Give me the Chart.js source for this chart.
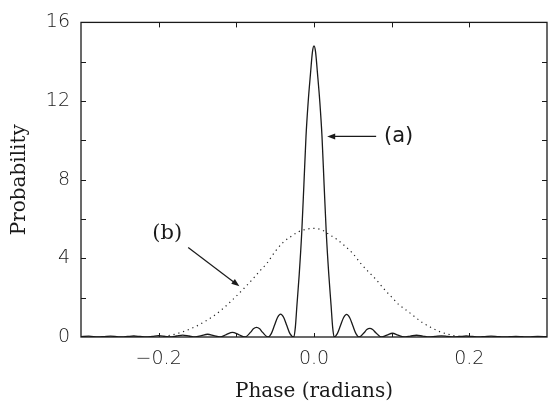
<!DOCTYPE html>
<html>
<head>
<meta charset="utf-8">
<script src="https://cdn.jsdelivr.net/npm/chart.js@4/dist/chart.umd.min.js"></script>
<style>
  html, body { margin: 0; padding: 0; background: #fff; }
  #wrap { width: 548px; height: 402px; }
</style>
</head>
<body>
<div id="wrap"><canvas id="chart" width="548" height="402"></canvas></div>
<script>
// curve (a): phase (radians) and probability
const phaseA = [
  -0.300, -0.290, -0.278, -0.270, -0.262, -0.254, -0.247, -0.240, -0.232, -0.224,
  -0.216, -0.208, -0.200, -0.192, -0.185, -0.177, -0.169, -0.161, -0.153, -0.145,
  -0.137, -0.129, -0.121, -0.113, -0.105, -0.097, -0.089, -0.0815, -0.078, -0.074,
  -0.070, -0.0665, -0.059, -0.055, -0.051, -0.047, -0.043, -0.039, -0.035, -0.031,
  -0.026, -0.024, -0.022, -0.019, -0.0158, -0.013, -0.0103, -0.0075, -0.0045, -0.002,
  0.0,
  0.002, 0.0045, 0.0075, 0.0103, 0.013, 0.0158, 0.019, 0.022, 0.024, 0.026,
  0.030, 0.034, 0.038, 0.042, 0.046, 0.050, 0.054, 0.058, 0.0645, 0.068,
  0.072, 0.0755, 0.0795, 0.087, 0.094, 0.101, 0.108, 0.116, 0.124, 0.132,
  0.140, 0.148, 0.156, 0.164, 0.172, 0.180, 0.188, 0.196, 0.204, 0.212,
  0.220, 0.228, 0.236, 0.244, 0.252, 0.260, 0.268, 0.276, 0.288, 0.300
];
const probA = [
  0.02, 0.04, 0, 0.02, 0.04, 0.02, 0, 0.025, 0.05, 0.025,
  0, 0.035, 0.07, 0.035, 0, 0.05, 0.10, 0.05, 0, 0.07,
  0.14, 0.07, 0, 0.12, 0.24, 0.12, 0, 0.25, 0.42, 0.49,
  0.42, 0.25, 0, 0.17, 0.58, 0.99, 1.16, 0.99, 0.58, 0.17,
  0, 0.5, 1.6, 3.2, 5.3, 7.75, 10.2, 11.95, 13.4, 14.5,
  14.8,
  14.5, 13.4, 11.95, 10.2, 7.75, 5.3, 3.2, 1.6, 0.5, 0,
  0.17, 0.57, 0.98, 1.15, 0.98, 0.57, 0.17, 0, 0.22, 0.38,
  0.44, 0.38, 0.22, 0, 0.10, 0.19, 0.10, 0, 0.045, 0.09,
  0.045, 0, 0.03, 0.06, 0.03, 0, 0.025, 0.05, 0.025, 0,
  0.02, 0.04, 0.02, 0, 0.015, 0.03, 0.015, 0, 0.03, 0.02
];

// curve (b): dotted
const phaseB = [
  -0.20, -0.19, -0.18, -0.17, -0.16, -0.15, -0.14, -0.13, -0.12, -0.11,
  -0.10, -0.09, -0.08, -0.07, -0.06, -0.05, -0.04, -0.03, -0.02, -0.01,
  0.00,
  0.01, 0.02, 0.03, 0.04, 0.05, 0.06, 0.07, 0.08, 0.09, 0.10,
  0.11, 0.12, 0.13, 0.14, 0.15, 0.16, 0.17, 0.18, 0.19, 0.20
];
const probB = [
  0.0, 0.05, 0.13, 0.25, 0.40, 0.58, 0.80, 1.05, 1.35, 1.70,
  2.08, 2.48, 2.90, 3.35, 3.78, 4.35, 4.80, 5.10, 5.35, 5.48,
  5.52,
  5.45, 5.20, 4.95, 4.62, 4.25, 3.75, 3.32, 2.92, 2.45, 2.03,
  1.62, 1.33, 1.02, 0.72, 0.50, 0.30, 0.17, 0.07, 0.02, 0.0
];

const xTickVals = [-0.2, 0.0, 0.2];
const yTickVals = [0, 4, 8, 12, 16];
const xMinorTicks = [-0.2, -0.1, 0.0, 0.1, 0.2];
const yMinorTicks = [2, 4, 6, 8, 10, 12, 14];

// labels with arrows: text spot, arrow tail, arrow head (data units)
const notes = [
  { text: "(a)", at: [0.109, 10.2], from: [0.080, 10.2], to: [0.017, 10.2], font: "21px 'DejaVu Sans'" },
  { text: "(b)", at: [-0.189, 5.25], from: [-0.162, 4.55], to: [-0.096, 2.58], font: "21px 'DejaVu Serif'" }
];

const ink = "#1a1a1a";

const framePlugin = {
  id: "frame",
  afterDatasetsDraw(chart) {
    const ctx = chart.ctx;
    const a = chart.chartArea;
    const xs = chart.scales.x, ys = chart.scales.y;
    ctx.save();
    ctx.strokeStyle = ink;
    ctx.lineWidth = 1.3;
    ctx.strokeRect(a.left, a.top, a.right - a.left, a.bottom - a.top);
    ctx.lineWidth = 1;
    ctx.beginPath();
    xMinorTicks.forEach(v => {
      const px = Math.round(xs.getPixelForValue(v)) + 0.5;
      ctx.moveTo(px, a.top); ctx.lineTo(px, a.top + 5);
      ctx.moveTo(px, a.bottom); ctx.lineTo(px, a.bottom - 4);
    });
    yMinorTicks.forEach(v => {
      const py = Math.round(ys.getPixelForValue(v)) + 0.5;
      ctx.moveTo(a.left, py); ctx.lineTo(a.left + 5, py);
      ctx.moveTo(a.right, py); ctx.lineTo(a.right - 5, py);
    });
    ctx.stroke();

    // annotations
    notes.forEach(n => {
      const x1 = xs.getPixelForValue(n.from[0]), y1 = ys.getPixelForValue(n.from[1]);
      const x2 = xs.getPixelForValue(n.to[0]), y2 = ys.getPixelForValue(n.to[1]);
      const ang = Math.atan2(y2 - y1, x2 - x1);
      ctx.lineWidth = 1.2;
      ctx.beginPath();
      ctx.moveTo(x1, y1);
      ctx.lineTo(x2 - 6 * Math.cos(ang), y2 - 6 * Math.sin(ang));
      ctx.stroke();
      ctx.fillStyle = ink;
      ctx.beginPath();
      ctx.moveTo(x2, y2);
      ctx.lineTo(x2 - 8 * Math.cos(ang) + 3 * Math.sin(ang), y2 - 8 * Math.sin(ang) - 3 * Math.cos(ang));
      ctx.lineTo(x2 - 8 * Math.cos(ang) - 3 * Math.sin(ang), y2 - 8 * Math.sin(ang) + 3 * Math.cos(ang));
      ctx.closePath();
      ctx.fill();
      ctx.font = n.font;
      ctx.textAlign = "center";
      ctx.textBaseline = "middle";
      ctx.fillText(n.text, xs.getPixelForValue(n.at[0]), ys.getPixelForValue(n.at[1]));
    });
    ctx.restore();
  }
};

new Chart(document.getElementById("chart"), {
  type: "line",
  data: {
    datasets: [
      {
        label: "(a)",
        data: phaseA.map((x, i) => ({ x: x, y: probA[i] })),
        borderColor: ink,
        borderWidth: 1.3,
        pointRadius: 0,
        cubicInterpolationMode: "monotone",
        fill: false
      },
      {
        label: "(b)",
        data: phaseB.map((x, i) => ({ x: x, y: probB[i] })),
        borderColor: "#222",
        borderWidth: 1.2,
        borderDash: [1.2, 3.8],
        pointRadius: 0,
        cubicInterpolationMode: "monotone",
        fill: false
      }
    ]
  },
  options: {
    responsive: false,
    animation: false,
    devicePixelRatio: 1,
    layout: { padding: { top: 20, right: 1, left: 0, bottom: 0 } },
    plugins: { legend: { display: false }, tooltip: { enabled: false } },
    scales: {
      x: {
        type: "linear",
        min: -0.3,
        max: 0.3,
        afterBuildTicks: s => { s.ticks = xTickVals.map(v => ({ value: v })); },
        afterFit: s => { s.height = 65; },
        grid: { display: false, drawTicks: false },
        border: { display: false },
        ticks: {
          padding: 11,
          color: ink,
          font: { family: "'DejaVu Sans'", size: 19, weight: 200 },
          maxRotation: 0,
          callback: v => v.toFixed(1).replace("-", "\u2212")
        },
        title: {
          display: true,
          text: "Phase (radians)",
          color: ink,
          font: { family: "'DejaVu Serif'", size: 20, lineHeight: 1 },
          padding: { top: 0, bottom: 0 }
        }
      },
      y: {
        type: "linear",
        min: 0,
        max: 16,
        afterBuildTicks: s => { s.ticks = yTickVals.map(v => ({ value: v })); },
        afterFit: s => { s.width = 81; },
        grid: { display: false, drawTicks: false },
        border: { display: false },
        ticks: {
          padding: 11,
          color: ink,
          font: { family: "'DejaVu Sans'", size: 19, weight: 200 },
          callback: v => String(v)
        },
        title: {
          display: true,
          text: "Probability",
          color: ink,
          font: { family: "'DejaVu Serif'", size: 20, lineHeight: 1 },
          padding: { top: 10, bottom: 0 }
        }
      }
    }
  },
  plugins: [framePlugin]
});
</script>
</body>
</html>
